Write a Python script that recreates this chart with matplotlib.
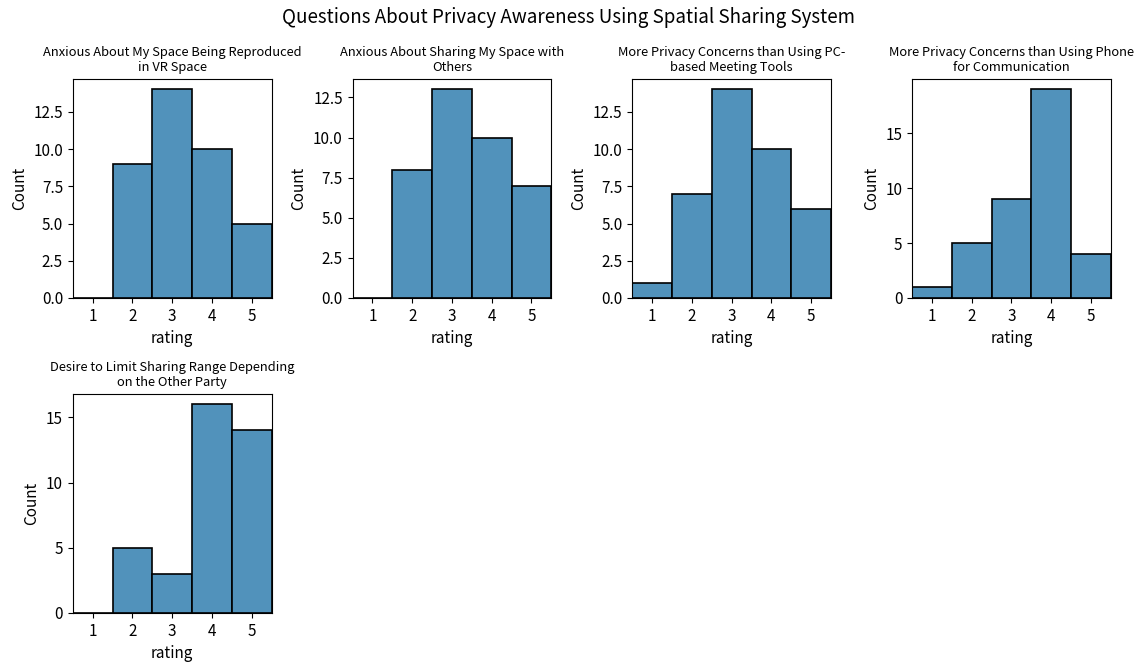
import matplotlib
matplotlib.use("Agg")
import matplotlib.pyplot as plt
from matplotlib.ticker import MultipleLocator

plt.rcParams["font.family"] = ["Noto Sans CJK JP", "DejaVu Sans"]

RATINGS = [1, 2, 3, 4, 5]
TITLES = [
    "Anxious About My Space Being Reproduced\nin VR Space",
    "Anxious About Sharing My Space with\nOthers",
    "More Privacy Concerns than Using PC-\nbased Meeting Tools",
    "More Privacy Concerns than Using Phone\nfor Communication",
    "Desire to Limit Sharing Range Depending\non the Other Party",
]
COUNTS = [
    [0, 9, 14, 10, 5],
    [0, 8, 13, 10, 7],
    [1, 7, 14, 10, 6],
    [1, 5, 9, 19, 4],
    [0, 5, 3, 16, 14],
]
Y_STEPS = [2.5, 2.5, 2.5, 5, 5]

BAR_COLOR = "#5192bb"

fig, axes = plt.subplots(2, 4, figsize=(11.37, 6.64), dpi=100)
fig.subplots_adjust(left=0.064, right=0.977, top=0.881, bottom=0.077,
                    wspace=0.407, hspace=0.438)

for i, ax in enumerate(axes.flat):
    if i >= len(COUNTS):
        ax.remove()
        continue
    ax.bar(RATINGS, COUNTS[i], width=1.0, color=BAR_COLOR,
           edgecolor="black", linewidth=1.2)
    ax.set_xlim(0.5, 5.5)
    ax.set_xticks(RATINGS)
    ax.yaxis.set_major_locator(MultipleLocator(Y_STEPS[i]))
    ax.set_title(TITLES[i], fontsize=9.3)
    ax.set_xlabel("rating", fontsize=11)
    ax.set_ylabel("Count", fontsize=11)
    ax.tick_params(labelsize=11)

fig.suptitle("Questions About Privacy Awareness Using Spatial Sharing System",
             fontsize=13.5, y=0.99)

fig.savefig("out.png", dpi=100, facecolor="white")
